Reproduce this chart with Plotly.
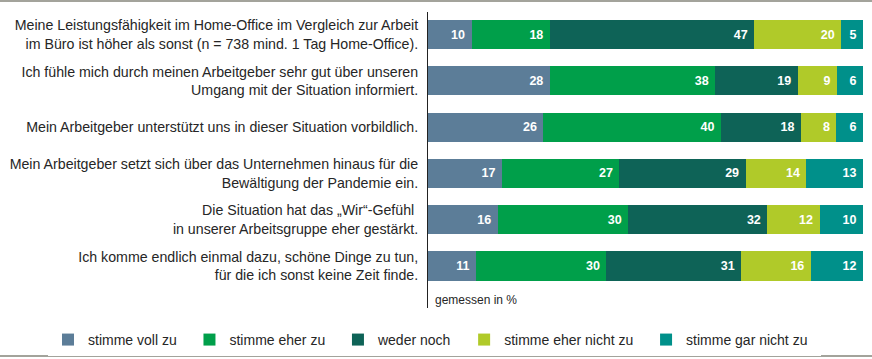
import plotly.graph_objects as go

statements = [
    "Meine Leistungsfähigkeit im Home-Office im Vergleich zur Arbeit<br>im Büro ist höher als sonst (n = 738 mind. 1 Tag Home-Office).",
    "Ich fühle mich durch meinen Arbeitgeber sehr gut über unseren<br>Umgang mit der Situation informiert.",
    "Mein Arbeitgeber unterstützt uns in dieser Situation vorbildlich.",
    "Mein Arbeitgeber setzt sich über das Unternehmen hinaus für die<br>Bewältigung der Pandemie ein.",
    "Die Situation hat das „Wir“-Gefühl <br>in unserer Arbeitsgruppe eher gestärkt.",
    "Ich komme endlich einmal dazu, schöne Dinge zu tun,<br>für die ich sonst keine Zeit finde.",
]
categories = ["stimme voll zu", "stimme eher zu", "weder noch", "stimme eher nicht zu", "stimme gar nicht zu"]
voll_zu = [10, 28, 26, 17, 16, 11]
eher_zu = [18, 38, 40, 27, 30, 30]
weder_noch = [47, 19, 18, 29, 32, 31]
eher_nicht_zu = [20, 9, 8, 14, 12, 16]
gar_nicht_zu = [5, 6, 6, 13, 10, 12]
colors = ["#5c7d98", "#009f4a", "#0e6357", "#b0ca29", "#00908a"]

series = [voll_zu, eher_zu, weder_noch, eher_nicht_zu, gar_nicht_zu]
totals = [sum(s[i] for s in series) for i in range(len(statements))]

FONT = "Liberation Sans, Arial, sans-serif"
TXT = "#262626"

fig = go.Figure()
for name, vals, col in zip(categories, series, colors):
    fig.add_trace(go.Bar(
        y=statements,
        x=[v / t * 100 for v, t in zip(vals, totals)],
        orientation="h",
        name=name + "\u00a0\u00a0",
        marker=dict(color=col, line=dict(width=0)),
        text=[f"{v}\u00a0" for v in vals],
        textposition="inside",
        insidetextanchor="end",
        textfont=dict(color="white", size=12.5, family=FONT, weight="bold"),
        hoverinfo="skip",
    ))

fig.update_layout(
    barmode="stack",
    bargap=0.37,
    width=872,
    height=359,
    margin=dict(l=428, r=9, t=12, b=51, autoexpand=False),
    paper_bgcolor="white",
    plot_bgcolor="white",
    font=dict(family=FONT, size=14, color=TXT),
    uniformtext=dict(minsize=12.5, mode="show"),
    showlegend=True,
    legend=dict(
        orientation="h",
        x=(48 - 428) / 435, xref="paper", xanchor="left",
        y=-0.108, yanchor="middle",
        font=dict(size=14, family=FONT, color=TXT),
        traceorder="normal",
        itemclick=False,
    ),
    xaxis=dict(range=[0, 100], visible=False, fixedrange=True, automargin=False),
    yaxis=dict(
        autorange=False,
        range=[5.907, -0.486],
        automargin=False,
        showline=True,
        linecolor="#222",
        linewidth=1,
        ticks="",
        ticklabelstandoff=6,
        showgrid=False,
        zeroline=False,
        tickfont=dict(size=14.2, family=FONT, color=TXT),
    ),
    annotations=[dict(
        text="gemessen in %", xref="paper", yref="paper",
        x=0.011, y=0.027, xanchor="left", yanchor="middle",
        showarrow=False, font=dict(size=12, family=FONT, color=TXT),
    )],
    shapes=[
        dict(type="line", xref="paper", yref="paper", x0=-1.0, x1=1.03,
             y0=(308 - 1) / 296, y1=(308 - 1) / 296, line=dict(color="#a3a39b", width=2)),
        dict(type="line", xref="paper", yref="paper", x0=-1.0, x1=1.03,
             y0=(308 - 356) / 296, y1=(308 - 356) / 296, line=dict(color="#a3a39b", width=2)),
    ],
)

fig.write_html("out.html", config={"displayModeBar": False},
               post_script="document.body.style.margin='0';document.body.style.padding='0';")
